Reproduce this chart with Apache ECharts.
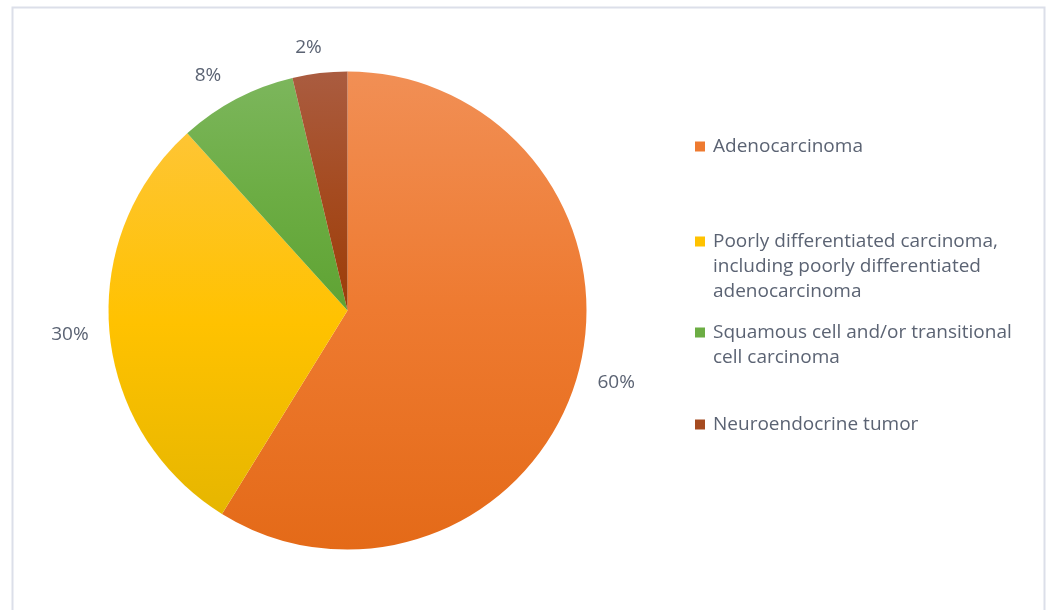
<!DOCTYPE html>
<html>
<head>
<meta charset="utf-8">
<script src="https://cdn.jsdelivr.net/npm/echarts@6/dist/echarts.min.js"></script>
<style>
  html, body { margin: 0; padding: 0; background: #fff; }
  #main { width: 1055px; height: 610px; }
</style>
</head>
<body>
<div id="main"></div>
<script>
// categories and values
const names = [
    'Adenocarcinoma',
    'Poorly differentiated carcinoma, including poorly differentiated adenocarcinoma',
    'Squamous cell and/or transitional cell carcinoma',
    'Neuroendocrine tumor'
];
const legendText = [
    'Adenocarcinoma',
    'Poorly differentiated carcinoma,\nincluding poorly differentiated\nadenocarcinoma',
    'Squamous cell and/or transitional\ncell carcinoma',
    'Neuroendocrine tumor'
];
const values = [58.8, 29.5, 8, 3.7];
const pctLabels = ['60%', '30%', '8%', '2%'];

// colours: [top, middle, bottom]
const colors = [
    ['#f18f55', '#ee7a30', '#e46a18'],
    ['#fec534', '#ffc200', '#e6b600'],
    ['#7cb65c', '#6cad44', '#5fa333'],
    ['#aa5c40', '#a54b20', '#9c3d08']
];
const legendTops = [134, 229, 320, 412];
const labelGaps = [-5, -5, 3, -5];
const iconPaths = [
    'rect',
    'path://M0,0h10v10h-10z M0,59.9h0.1v0.1h-0.1z',
    'path://M0,0h10v10h-10z M0,34.9h0.1v0.1h-0.1z',
    'rect'
];

const textColor = '#5b6373';
const fontName = 'Open Sans';

let pieData = names.map((n, i) => ({
    name: n,
    value: values[i],
    label: { distanceToLabelLine: labelGaps[i] },
    itemStyle: {
        color: new echarts.graphic.LinearGradient(0, 0, 0, 1, [
            { offset: 0, color: colors[i][0] },
            { offset: 0.5, color: colors[i][1] },
            { offset: 1, color: colors[i][2] }
        ])
    }
}));

let legends = names.map((n, i) => ({
    orient: 'vertical',
    left: 695,
    top: legendTops[i],
    padding: 0,
    itemWidth: 10,
    itemHeight: i === 1 ? 60 : (i === 2 ? 35 : 10),
    itemGap: 0,
    selectedMode: false,
    data: [{ name: n, icon: iconPaths[i], itemStyle: { color: colors[i][1] } }],
    formatter: function (name) {
        return legendText[names.indexOf(name)];
    },
    textStyle: {
        color: textColor,
        fontFamily: fontName,
        fontSize: 19,
        lineHeight: 25,
        padding: [0, 0, 0, 3]
    }
}));

let chart = echarts.init(document.getElementById('main'));
let option = {
    backgroundColor: '#fff',
    animation: false,
    graphic: [{
        type: 'rect',
        shape: { x: 12.5, y: 7.5, width: 1032, height: 640 },
        style: { fill: 'none', stroke: '#dcdfe9', lineWidth: 2 },
        silent: true
    }],
    legend: legends,
    series: [{
        type: 'pie',
        center: [347.5, 310.5],
        radius: 239,
        startAngle: 90,
        clockwise: true,
        avoidLabelOverlap: false,
        data: pieData,
        label: {
            show: true,
            position: 'outside',
            formatter: function (p) {
                return pctLabels[p.dataIndex];
            },
            color: textColor,
            fontFamily: fontName,
            fontSize: 19
        },
        labelLine: { show: false, length: 26, length2: 0 },
        emphasis: { disabled: true }
    }]
};
chart.setOption(option);
</script>
</body>
</html>
